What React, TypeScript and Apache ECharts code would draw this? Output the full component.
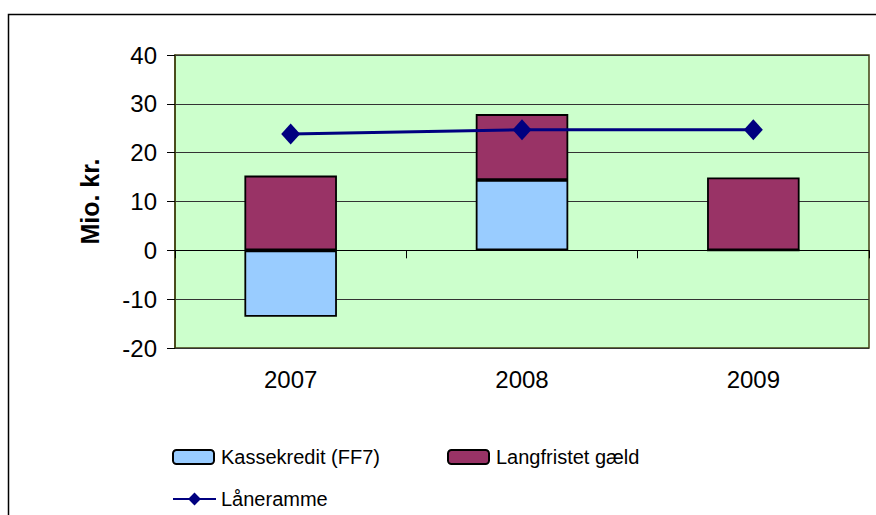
import React, { useEffect, useRef } from "react";
import * as echarts from "echarts";

const categories = ["2007", "2008", "2009"];
const kassekredit = [-13.6, 14.4, 0];
const langfristet = [15.3, 13.5, 14.9];
const laneramme = [23.8, 24.7, 24.7];
const yTicks = { min: -20, max: 40, interval: 10 };

const FONT = "Liberation Sans, Arial, sans-serif";

export default function App() {
  const ref = useRef<HTMLDivElement>(null);
  useEffect(() => {
    if (!ref.current) return;
    const chart = echarts.init(ref.current, null, { renderer: "svg" });
    const legendText = { fontSize: 20, fontFamily: FONT, color: "#000" };
    chart.setOption({
      animation: false,
      backgroundColor: "#ffffff",
      textStyle: { fontFamily: FONT },
      graphic: [
        {
          type: "rect",
          shape: { x: 8.5, y: 14.5, width: 900, height: 600 },
          style: { fill: "none", stroke: "#000000", lineWidth: 1.5 },
          silent: true,
          z: 100,
        },
      ],
      grid: {
        left: 175,
        top: 55,
        right: 7,
        bottom: 167,
        show: true,
        backgroundColor: "#CCFFCC",
        borderColor: "#404010",
        borderWidth: 1.5,
      },
      legend: [
        {
          left: 172,
          top: 447,
          padding: 0,
          data: ["Kassekredit (FF7)"],
          itemWidth: 41,
          itemHeight: 14,
          textStyle: { ...legendText, padding: [0, 0, 0, 2] },
        },
        {
          left: 447,
          top: 447,
          padding: 0,
          data: ["Langfristet gæld"],
          itemWidth: 41,
          itemHeight: 14,
          textStyle: { ...legendText, padding: [0, 0, 0, 2] },
        },
        {
          left: 172,
          top: 489,
          padding: 0,
          data: ["Låneramme"],
          itemWidth: 43,
          itemHeight: 16,
          textStyle: { ...legendText, padding: [0, 0, 0, 0] },
        },
      ],
      xAxis: [
        {
          type: "category",
          data: categories,
          position: "bottom",
          axisLine: { show: false, onZero: false },
          axisTick: { show: false },
          axisLabel: { fontSize: 24, color: "#000", margin: 19, fontFamily: FONT },
          splitLine: { show: false },
        },
        {
          type: "category",
          data: categories,
          position: "bottom",
          axisLine: { show: true, onZero: true, lineStyle: { color: "#000", width: 1 } },
          axisTick: { show: true, length: 8, lineStyle: { color: "#000" } },
          axisLabel: { show: false },
          splitLine: { show: false },
        },
      ],
      yAxis: {
        type: "value",
        min: yTicks.min,
        max: yTicks.max,
        interval: yTicks.interval,
        name: "Mio. kr.",
        nameLocation: "middle",
        nameGap: 73,
        nameRotate: 90,
        nameTextStyle: { fontSize: 25, fontWeight: "bold", color: "#000", fontFamily: FONT },
        axisLine: { show: true, lineStyle: { color: "#404010", width: 1.5 } },
        axisTick: { show: true, length: 8, lineStyle: { color: "#000" } },
        axisLabel: { fontSize: 24, color: "#000", margin: 18, fontFamily: FONT },
        splitLine: { show: true, lineStyle: { color: "#333333", width: 1 } },
      },
      series: [
        {
          name: "Kassekredit (FF7)",
          type: "bar",
          stack: "total",
          data: kassekredit,
          barWidth: "40%",
          itemStyle: { color: "#99CCFF", borderColor: "#000", borderWidth: 1.8 },
        },
        {
          name: "Langfristet gæld",
          type: "bar",
          stack: "total",
          data: langfristet,
          barWidth: "40%",
          itemStyle: { color: "#993366", borderColor: "#000", borderWidth: 1.8 },
        },
        {
          name: "Låneramme",
          type: "line",
          data: laneramme,
          symbol: "diamond",
          symbolSize: [19, 21],
          lineStyle: { color: "#000080", width: 3 },
          itemStyle: { color: "#000080" },
          z: 5,
        },
      ],
    });
    return () => chart.dispose();
  }, []);
  return (
    <div
      ref={ref}
      style={{ position: "absolute", left: 0, top: 0, width: 876, height: 515 }}
    />
  );
}
